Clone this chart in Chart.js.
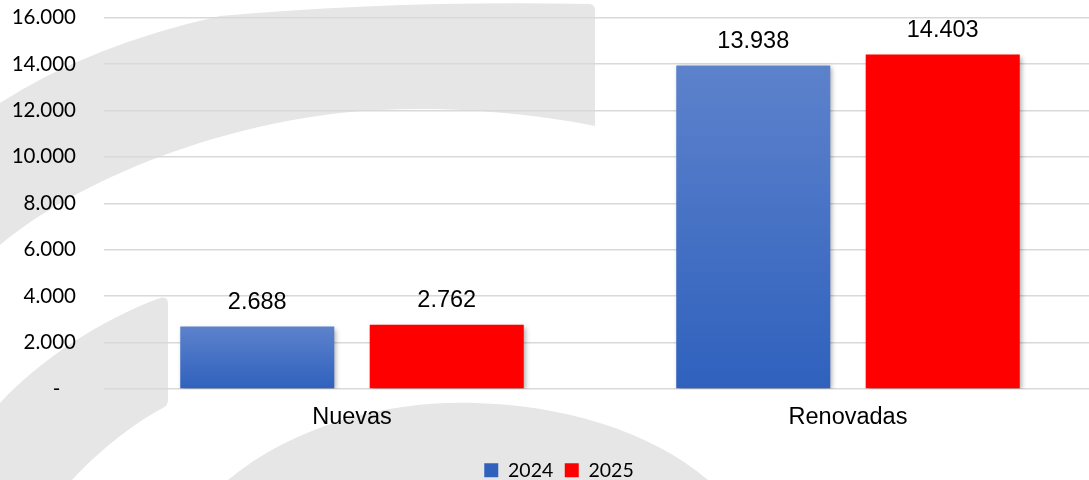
<!DOCTYPE html>
<html>
<head>
<meta charset="utf-8">
<script src="https://cdn.jsdelivr.net/npm/chart.js@4/dist/chart.umd.min.js"></script>
<style>
  html, body { margin: 0; padding: 0; overflow: hidden; background: #ffffff; }
  #wrap { position: absolute; left: 0; top: 0; width: 1118px; height: 490px; }
</style>
</head>
<body>
<div id="wrap"><canvas id="c"></canvas></div>
<script>
const categories = ['Nuevas', 'Renovadas'];
const seriesLabels = ['2024', '2025'];
const values2024 = [2688, 13938];
const values2025 = [2762, 14403];
const yTicks = [0, 2000, 4000, 6000, 8000, 10000, 12000, 14000, 16000];

function fmt(v) {
  return String(Math.round(v)).replace(/\B(?=(\d{3})+(?!\d))/g, '.');
}

const watermark = {
  id: 'watermark',
  beforeDraw(chart) {
    const c = chart.ctx;
    c.save();
    c.fillStyle = '#ffffff';
    c.fillRect(0, 0, chart.width, chart.height);
    c.fillStyle = '#e6e6e6';
    // top band
    c.beginPath();
    c.moveTo(0, 103);
    c.quadraticCurveTo(90, 45, 220, 16);
    c.quadraticCurveTo(400, 0, 590, 4);
    c.quadraticCurveTo(595, 5, 595, 10);
    c.lineTo(595, 126);
    c.bezierCurveTo(540, 115, 460, 106, 380, 110);
    c.bezierCurveTo(250, 115, 90, 170, 0, 245);
    c.closePath();
    c.fill();
    // left lower band
    c.beginPath();
    c.moveTo(0, 403);
    c.bezierCurveTo(40, 360, 100, 320, 160, 298);
    c.quadraticCurveTo(168, 296, 168, 304);
    c.lineTo(168, 400);
    c.quadraticCurveTo(168, 405, 163, 408);
    c.bezierCurveTo(130, 425, 95, 455, 72, 480);
    c.lineTo(0, 480);
    c.closePath();
    c.fill();
    // bottom dome
    c.beginPath();
    c.moveTo(228, 480);
    c.bezierCurveTo(300, 420, 400, 400, 475, 403);
    c.bezierCurveTo(560, 405, 650, 430, 708, 480);
    c.lineTo(708, 490);
    c.lineTo(228, 490);
    c.closePath();
    c.fill();
    c.restore();
  }
};

const shadow = {
  id: 'barShadow',
  beforeDatasetsDraw(chart) {
    const c = chart.ctx;
    c.save();
    c.shadowColor = 'rgba(0,0,0,0.35)';
    c.shadowBlur = 5;
    c.shadowOffsetX = 2;
    c.shadowOffsetY = 2;
  },
  afterDatasetsDraw(chart) {
    chart.ctx.restore();
  }
};

const legendShift = {
  id: 'legendShift',
  afterLayout(chart) {
    if (chart.legend) {
      chart.legend.left += 11;
      chart.legend.right += 11;
    }
  }
};

const valueLabels = {
  id: 'valueLabels',
  afterDraw(chart) {
    const c = chart.ctx;
    c.save();
    c.font = '23.5px "Liberation Sans", Arial, sans-serif';
    c.fillStyle = '#000000';
    c.textAlign = 'center';
    c.textBaseline = 'alphabetic';
    chart.data.datasets.forEach((ds, i) => {
      const meta = chart.getDatasetMeta(i);
      meta.data.forEach((bar, j) => {
        c.fillText(fmt(ds.data[j]), bar.x, bar.y - 17.5);
      });
    });
    c.restore();
  }
};

function blueFill(ctx) {
  const chart = ctx.chart;
  const area = chart.chartArea;
  if (!area || ctx.type !== 'data') return '#4a74c6';
  const y = chart.scales.y;
  const top = y.getPixelForValue(ctx.raw);
  const bottom = y.getPixelForValue(0);
  const g = chart.ctx.createLinearGradient(0, top, 0, bottom);
  g.addColorStop(0, '#5d82cc');
  g.addColorStop(1, '#2f61bd');
  return g;
}

new Chart(document.getElementById('c'), {
  type: 'bar',
  data: {
    labels: categories,
    datasets: [
      { label: seriesLabels[0], data: values2024, backgroundColor: blueFill, borderWidth: 0 },
      { label: seriesLabels[1], data: values2025, backgroundColor: '#ff0000', borderWidth: 0 }
    ]
  },
  plugins: [watermark, shadow, valueLabels, legendShift],
  options: {
    responsive: true,
    maintainAspectRatio: false,
    animation: false,
    devicePixelRatio: 1,
    layout: { padding: { top: 17.5, left: 0, right: 22, bottom: 0 } },
    categoryPercentage: 0.764,
    barPercentage: 0.813,
    plugins: {
      tooltip: { enabled: false },
      legend: {
        position: 'bottom',
        labels: {
          boxWidth: 14,
          boxHeight: 14,
          padding: 11.5,
          color: '#000000',
          font: { family: 'Lato, "Open Sans", sans-serif', size: 19.5 }
        }
      }
    },
    scales: {
      x: {
        grid: { display: false, drawTicks: false },
        border: { display: false },
        ticks: {
          color: '#000000',
          padding: 14,
          font: { family: '"Liberation Sans", Arial, sans-serif', size: 23.5 }
        },
        afterFit(s) { s.height = 60; }
      },
      y: {
        min: 0,
        max: 16000,
        afterBuildTicks(s) { s.ticks = yTicks.map(v => ({ value: v })); },
        grid: { color: '#d9d9d9', lineWidth: 1.5, drawTicks: false },
        border: { display: false },
        ticks: {
          color: '#000000',
          padding: 28,
          font: { family: 'Lato, "Open Sans", sans-serif', size: 20.5 },
          callback: v => (v === 0 ? '-   ' : fmt(v))
        },
        afterFit(s) {
          s.width = 104;
          s.paddingTop = 12;
          s.paddingBottom = 12;
        }
      }
    }
  }
});
</script>
</body>
</html>
